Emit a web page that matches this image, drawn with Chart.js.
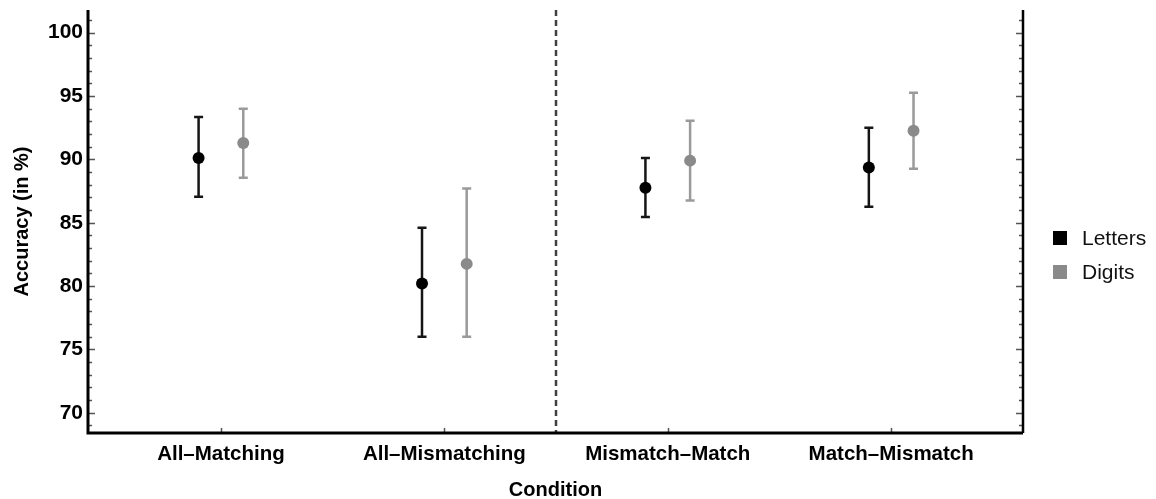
<!DOCTYPE html>
<html>
<head>
<meta charset="utf-8">
<script src="https://cdn.jsdelivr.net/npm/chart.js@4/dist/chart.umd.min.js"></script>
<style>
  html, body { margin: 0; padding: 0; background: #fff; }
  #wrap { width: 1156px; height: 499px; }
</style>
</head>
<body>
<div id="wrap"><canvas id="c" width="1156" height="499"></canvas></div>
<script>
// Conditions on the x axis
const categories = ['All–Matching', 'All–Mismatching', 'Mismatch–Match', 'Match–Mismatch'];

// Letters: mean accuracy and error-bar bounds (%)
const lettersMean = [90.1, 80.2, 87.75, 89.35];
const lettersLow  = [87.05, 76.0, 85.45, 86.25];
const lettersHigh = [93.35, 84.6, 90.1, 92.5];

// Digits: mean accuracy and error-bar bounds (%)
const digitsMean = [91.3, 81.75, 89.9, 92.25];
const digitsLow  = [88.55, 76.0, 86.75, 89.25];
const digitsHigh = [94.0, 87.7, 93.05, 95.25];

// Labelled y ticks
const yTicks = [70, 75, 80, 85, 90, 95, 100];

const LETTER_COLOR = '#000000';
const DIGIT_COLOR = '#8a8a8a';
const LETTER_BAR = '#151515';
const DIGIT_BAR = '#9a9a9a';
const DODGE = 0.1;

function series(means, shift) {
  return means.map((m, i) => ({ x: i + 1 + shift, y: m }));
}

const errorSets = [
  { low: lettersLow, high: lettersHigh, shift: -DODGE, color: LETTER_BAR },
  { low: digitsLow, high: digitsHigh, shift: DODGE, color: DIGIT_BAR }
];

const framePlugin = {
  id: 'framePlugin',
  beforeDatasetsDraw(chart) {
    const { ctx, chartArea: a, scales: { x, y } } = chart;
    ctx.save();
    // divider between the two condition groups
    const xd = Math.round(x.getPixelForValue(2.5));
    ctx.strokeStyle = '#404040';
    ctx.lineWidth = 2.5;
    ctx.setLineDash([6, 4]);
    ctx.beginPath();
    ctx.moveTo(xd, a.top);
    ctx.lineTo(xd, a.bottom);
    ctx.stroke();
    ctx.setLineDash([]);
    // error bars
    errorSets.forEach(s => {
      ctx.strokeStyle = s.color;
      ctx.lineWidth = 2.5;
      s.low.forEach((lo, i) => {
        const px = x.getPixelForValue(i + 1 + s.shift);
        const p1 = y.getPixelForValue(lo);
        const p2 = y.getPixelForValue(s.high[i]);
        ctx.beginPath();
        ctx.moveTo(px, p1); ctx.lineTo(px, p2);
        ctx.moveTo(px - 4.5, p1); ctx.lineTo(px + 4.5, p1);
        ctx.moveTo(px - 4.5, p2); ctx.lineTo(px + 4.5, p2);
        ctx.stroke();
      });
    });
    ctx.restore();
  },
  afterDraw(chart) {
    const { ctx, chartArea: a, scales: { x, y } } = chart;
    ctx.save();
    // minor and major ticks on both vertical axes, pointing inward
    ctx.strokeStyle = '#555';
    ctx.lineWidth = 1.5;
    for (let v = Math.ceil(y.min); v <= Math.floor(y.max); v++) {
      const py = Math.round(y.getPixelForValue(v)) + 0.5;
      const len = v % 5 === 0 ? 7 : 4;
      ctx.beginPath();
      ctx.moveTo(a.left, py); ctx.lineTo(a.left + len, py);
      ctx.moveTo(a.right, py); ctx.lineTo(a.right - len, py);
      ctx.stroke();
    }
    // category ticks on the bottom axis
    categories.forEach((c, i) => {
      const px = Math.round(x.getPixelForValue(i + 1)) + 0.5;
      ctx.beginPath();
      ctx.moveTo(px, a.bottom); ctx.lineTo(px, a.bottom - 5);
      ctx.stroke();
    });
    // axis lines
    ctx.strokeStyle = '#000';
    ctx.lineWidth = 3;
    ctx.beginPath();
    ctx.moveTo(a.left, a.top);
    ctx.lineTo(a.left, a.bottom);
    ctx.lineTo(a.right, a.bottom);
    ctx.stroke();
    ctx.lineWidth = 2.5;
    ctx.beginPath();
    ctx.moveTo(a.right, a.top);
    ctx.lineTo(a.right, a.bottom);
    ctx.stroke();
    // legend
    ctx.font = '21px "Liberation Sans", Arial, sans-serif';
    ctx.textBaseline = 'middle';
    ctx.textAlign = 'left';
    chart.data.datasets.forEach((ds, i) => {
      const cy = 238 + i * 34;
      ctx.fillStyle = ds.backgroundColor;
      ctx.fillRect(1053, cy - 7, 14, 14);
      ctx.fillStyle = '#111';
      ctx.fillText(ds.label, 1082, cy + 1);
    });
    ctx.restore();
  }
};

new Chart(document.getElementById('c'), {
  type: 'scatter',
  data: {
    datasets: [
      { label: 'Letters', data: series(lettersMean, -DODGE), backgroundColor: LETTER_COLOR, borderColor: LETTER_COLOR, pointRadius: 6, pointHoverRadius: 6, borderWidth: 0 },
      { label: 'Digits', data: series(digitsMean, DODGE), backgroundColor: DIGIT_COLOR, borderColor: DIGIT_COLOR, pointRadius: 6, pointHoverRadius: 6, borderWidth: 0 }
    ]
  },
  options: {
    responsive: false,
    animation: false,
    events: [],
    layout: { padding: { top: 10, right: 133, left: 0, bottom: 0 } },
    plugins: { legend: { display: false }, tooltip: { enabled: false } },
    scales: {
      x: {
        type: 'linear',
        min: 0.405,
        max: 4.59,
        grid: { display: false, drawTicks: false },
        border: { display: false },
        afterBuildTicks: s => { s.ticks = categories.map((c, i) => ({ value: i + 1 })); },
        afterFit: s => { s.height = 66; s.paddingLeft = 0; s.paddingRight = 0; },
        ticks: {
          autoSkip: false,
          maxRotation: 0,
          padding: 9,
          color: '#000',
          font: { family: '"Liberation Sans", Arial, sans-serif', size: 20.5, weight: 'bold' },
          callback: v => categories[Math.round(v) - 1]
        },
        title: {
          display: true,
          text: 'Condition',
          color: '#000',
          padding: { top: 0, bottom: 0 },
          font: { family: '"Liberation Sans", Arial, sans-serif', size: 20, weight: 'bold', lineHeight: 0.85 }
        }
      },
      y: {
        min: 68.4,
        max: 101.79,
        grid: { display: false, drawTicks: false },
        border: { display: false },
        afterBuildTicks: s => { s.ticks = yTicks.map(v => ({ value: v })); },
        afterFit: s => { s.width = 88; s.paddingTop = 0; s.paddingBottom = 0; },
        ticks: {
          padding: 5,
          color: '#000',
          font: { family: '"Liberation Sans", Arial, sans-serif', size: 21, weight: 'bold' }
        },
        title: {
          display: true,
          text: 'Accuracy (in %)',
          color: '#000',
          padding: { top: 12, bottom: 0 },
          font: { family: '"Liberation Sans", Arial, sans-serif', size: 20, weight: 'bold', lineHeight: 1 }
        }
      }
    }
  },
  plugins: [framePlugin]
});
</script>
</body>
</html>
